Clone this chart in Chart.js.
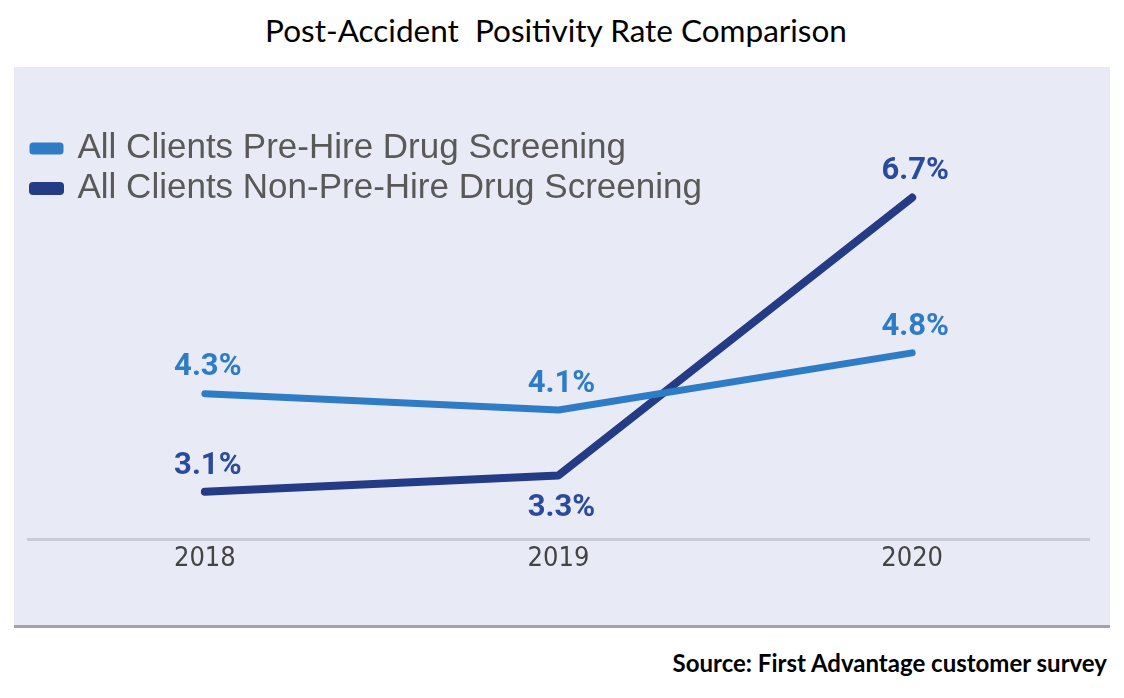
<!DOCTYPE html>
<html>
<head>
<meta charset="utf-8">
<script src="https://cdn.jsdelivr.net/npm/chart.js@4.4.0/dist/chart.umd.min.js"></script>
<style>
    html, body { margin: 0; padding: 0; background: #ffffff; }
    body { width: 1124px; height: 698px; position: relative; overflow: hidden; }
    #title {
        position: absolute; left: 0; top: 11px; width: 1112px; text-align: center;
        font-family: Lato, 'Open Sans', sans-serif; font-size: 31.5px; color: #000; white-space: pre;
    }
    #panel {
        position: absolute; left: 14px; top: 67px; width: 1096px; height: 558px;
        background: #e8ebf5; border-bottom: 3px solid #a3a3a3;
    }
    #source {
        position: absolute; right: 17px; top: 648px;
        font-family: Lato, 'Open Sans', sans-serif; font-weight: bold; font-size: 24px; color: #000;
    }
</style>
</head>
<body>
<div id="title">Post-Accident  Positivity Rate Comparison</div>
<div id="panel"><canvas id="chartPositividad" width="1096" height="558"></canvas></div>
<div id="source">Source: First Advantage customer survey</div>

<script>
// Datos
const anios = ['2018', '2019', '2020'];
const preHire = [4.3, 4.1, 4.8];
const noPreHire = [3.1, 3.3, 6.7];
// posición de cada etiqueta respecto al punto
const posPreHire = ['above', 'above', 'above'];
const posNoPreHire = ['above', 'below', 'above'];

const colorPreHire = '#2f7cc6';
const colorNoPreHire = '#243b86';

// Etiquetas de valores sobre los puntos
const etiquetasPlugin = {
    id: 'etiquetas',
    afterDatasetsDraw(chart) {
        const ctx = chart.ctx;
        ctx.save();
        ctx.font = 'bold 31px Roboto, "Liberation Sans", sans-serif';
        ctx.textAlign = 'center';
        ctx.textBaseline = 'middle';
        chart.data.datasets.forEach((ds, i) => {
            const meta = chart.getDatasetMeta(i);
            meta.data.forEach((pt, j) => {
                const dy = ds.labelPos[j] === 'below' ? 33 : -26;
                ctx.fillStyle = ds.labelColor;
                ctx.fillText(ds.data[j].toFixed(1) + '%', pt.x + 3, pt.y + dy);
            });
        });
        ctx.restore();
    }
};

const chart = new Chart(document.getElementById('chartPositividad'), {
    type: 'line',
    data: {
        labels: anios,
        datasets: [{
            label: 'All Clients Pre-Hire Drug Screening',
            data: preHire,
            borderColor: colorPreHire,
            backgroundColor: colorPreHire,
            borderWidth: 7,
            labelColor: '#2f7cc6',
            labelPos: posPreHire
        }, {
            label: 'All Clients Non-Pre-Hire Drug Screening',
            data: noPreHire,
            borderColor: colorNoPreHire,
            backgroundColor: colorNoPreHire,
            borderWidth: 8,
            labelColor: '#2a4b9b',
            labelPos: posNoPreHire
        }]
    },
    options: {
        responsive: false,
        animation: false,
        devicePixelRatio: 1,
        layout: { padding: { left: 14, right: 21, top: 57, bottom: 47 } },
        elements: {
            point: { radius: 0, hoverRadius: 0 },
            line: { tension: 0, borderCapStyle: 'round', borderJoinStyle: 'round' }
        },
        scales: {
            x: {
                offset: true,
                grid: { display: false, drawTicks: false },
                border: { display: true, color: '#c9cdd8', width: 3 },
                ticks: {
                    padding: 3,
                    color: '#444444',
                    font: { family: '"DejaVu Sans Condensed", "DejaVu Sans", sans-serif', weight: 'condensed', size: 27 }
                }
            },
            y: {
                display: false,
                min: 2.515,
                max: 7.6
            }
        },
        plugins: {
            legend: {
                position: 'chartArea',
                align: 'start',
                title: {
                    // espacio vacío arriba de la leyenda
                    display: true,
                    text: ' ',
                    font: { size: 10 },
                    padding: { top: 47, bottom: 0 }
                },
                labels: {
                    boxWidth: 27,
                    boxHeight: 5,
                    padding: 5,
                    color: '#595959',
                    font: { family: '"Liberation Sans", Arial, sans-serif', size: 35 }
                }
            },
            tooltip: { enabled: false }
        }
    },
    plugins: [etiquetasPlugin]
});
</script>
</body>
</html>
